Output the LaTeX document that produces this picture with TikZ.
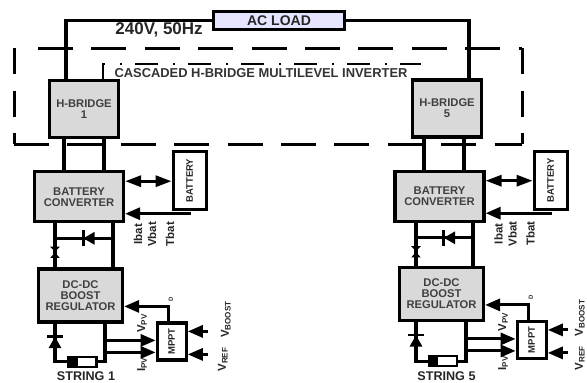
\documentclass[tikz,border=0pt]{standalone}
\usepackage{fontspec}
\setmainfont{Liberation Sans}
\usetikzlibrary{arrows.meta, calc, positioning, shapes.geometric}
\tikzset{
  linkline/.style={line width=3.2pt},
  linkarrow/.style={->, >={Triangle[length=15pt,width=12pt]}, line width=3pt},
  linkboth/.style={<->, >={Triangle[length=16pt,width=11pt]}, line width=3pt},
  greybox/.style={rectangle, draw, line width=3.2pt, fill=gray!30, inner sep=0pt, align=center, text=black!75, font=\fontsize{11.2}{11}\selectfont\bfseries},
  hbridge/.style={greybox, minimum width=69pt, minimum height=57pt},
  batconv/.style={greybox, minimum width=89pt, minimum height=50pt},
  boostreg/.style={greybox, minimum width=84pt, minimum height=53pt},
  sidebox/.style={rectangle, draw, line width=3.2pt, fill=white, inner sep=0pt, text=black!85},
  batbox/.style={sidebox, minimum width=33pt, minimum height=58pt, font=\fontsize{9.5}{10}\selectfont\bfseries},
  mpptbox/.style={sidebox, minimum width=29pt, minimum height=37pt, font=\fontsize{9.5}{10}\selectfont\bfseries},
  pvcell/.style={rectangle, draw, line width=2.4pt, fill=white, inner sep=0pt, minimum width=28pt, minimum height=10pt},
  pvmark/.style={rectangle, fill=black, inner sep=0pt, minimum width=10pt, minimum height=9pt},
  diodetip/.style={regular polygon, regular polygon sides=3, fill=black, inner sep=0pt, minimum size=15pt, anchor=corner 1},
  diodebar/.style={rectangle, fill=black, inner sep=0pt},
  signame/.style={inner sep=0pt, rotate=90, text=black!85, font=\fontsize{11.5}{11}\selectfont\bfseries},
  stringname/.style={inner sep=0pt, text=black!85, font=\fontsize{12.6}{12}\selectfont\bfseries},
  outerdashh/.style={line width=3pt, dash pattern=on 35pt off 18.4pt},
  outerdashv/.style={line width=3pt, dash pattern=on 26pt off 16.5pt},
  innerdash/.style={line width=2.2pt, dash pattern=on 23pt off 15pt on 2pt off 13pt, dash phase=6pt},
}
\begin{document}
\begin{tikzpicture}[x=1pt, y=1pt]
  \useasboundingbox (0,0) rectangle (587,-383);

  % Load and inverter frame.
  \node[rectangle, draw, line width=2.8pt, fill=blue!10!white, minimum width=131pt, minimum height=18pt, inner sep=0pt, text=black!85, font=\fontsize{14}{14}\selectfont\bfseries] (acload) at (279,-20.5) {AC LOAD};
  \node[inner sep=0pt, text=black!85, font=\fontsize{17}{17}\selectfont\bfseries] (mains) at ($(acload.west)+(-53,-9)$) {240V, 50Hz};
  \node[minimum width=508pt, minimum height=96pt, inner sep=0pt, outer sep=0pt] (inv) at (268,-96) {};
  \node[inner sep=0pt, text=black!80, font=\fontsize{12.9}{13}\selectfont\bfseries] (invname) at ($(inv.north)+(-7,-25)$) {CASCADED H-BRIDGE MULTILEVEL INVERTER};

  \draw[outerdashh] ($(inv.north west)+(24,0)$) -- (inv.north east);
  \draw[outerdashh] (inv.south west) -- (inv.south east);
  \draw[outerdashv] (inv.north west) -- (inv.south west);
  \draw[outerdashv] (inv.north east) -- (inv.south east);

  % First string.
  \node[hbridge] (hb1) at (84,-109) {H-BRIDGE\\1};
  \node[batconv, below=31pt of hb1, xshift=-5pt] (bc1) {BATTERY\\CONVERTER};
  \node[boostreg, below=44pt of bc1, xshift=1.5pt] (dc1) {DC-DC\\BOOST\\REGULATOR};
  \node[batbox, right=46.5pt of bc1, yshift=16pt] (bat1) {\rotatebox{90}{BATTERY}};
  \node[mpptbox, right=31.5pt of dc1, yshift=-46pt] (mppt1) {\rotatebox{90}{MPPT}};
  \node[pvcell, below=32pt of dc1, xshift=2pt] (str1) {};
  \node[pvmark, anchor=west] (mark1) at (str1.west) {};
  \node[stringname, below=4pt of str1, xshift=3.5pt] (strname1) {STRING 1};

  % Fifth string.
  \node[hbridge] (hb5) at (447,-108.5) {H-BRIDGE\\5};
  \node[batconv, below=31pt of hb5, xshift=-7.5pt] (bc5) {BATTERY\\CONVERTER};
  \node[boostreg, below=43pt of bc5, xshift=2pt] (dc5) {DC-DC\\BOOST\\REGULATOR};
  \node[batbox, right=47pt of bc5, yshift=16pt] (bat5) {\rotatebox{90}{BATTERY}};
  \node[mpptbox, right=30.5pt of dc5, yshift=-46pt] (mppt5) {\rotatebox{90}{MPPT}};
  \node[pvcell, below=33pt of dc5, xshift=1.5pt] (str5) {};
  \node[pvmark, anchor=west] (mark5) at (str5.west) {};
  \node[stringname, below=4pt of str5, xshift=3.5pt] (strname5) {STRING 5};

  % Mains edges.
  \coordinate (hb1top) at ($(hb1.north)+(-18,0)$);
  \coordinate (hb5top) at ($(hb5.north)+(22,0)$);
  \draw[linkline] (acload.west) -| (hb1top);
  \draw[linkline] (acload.east) -| (hb5top);
  \coordinate (innerl) at ($(hb1.north)+(19,0)$);
  \coordinate (innerr) at (421,-64);
  \draw[innerdash] (innerl) |- (innerr);

  % Edges of the first string.
  \coordinate (hb1a) at ($(hb1.south)+(-20,0)$);
  \coordinate (hb1b) at ($(hb1.south)+(20,0)$);
  \draw[linkline] (hb1a) -- (hb1a |- bc1.north);
  \draw[linkline] (hb1b) -- (hb1b |- bc1.north);
  \draw[linkboth] (bc1.east |- bat1.west) ++(0,-0.5) -- ($(bat1.west)+(0,-0.5)$);
  \coordinate (fb1) at ($(bc1.east)+(66,-17)$);
  \draw[linkarrow] (fb1) -- ($(bc1.east)+(0,-17)$);

  \coordinate (bus1a) at ($(bc1.south)+(-24,0)$);
  \coordinate (bus1b) at ($(bc1.south)+(34,0)$);
  \draw[linkline] (bus1a) -- (bus1a |- dc1.north);
  \draw[linkline] (bus1b) -- (bus1b |- dc1.north);
  \coordinate (tie1) at ($(bc1.south)+(4,-15)$);
  \draw[linkline] (bus1a |- tie1) -- (bus1b |- tie1);
  \node[diodebar, minimum width=3pt, minimum height=16pt] (tiebar1) at (tie1) {};
  \node[diodetip, rotate=90] (tietip1) at (tie1) {};
  \coordinate (neck1) at ($(bus1a)+(0,-29)$);
  \node[diodetip, minimum size=7pt, xscale=1.6] (necka1) at (neck1) {};
  \node[diodetip, minimum size=7pt, xscale=1.6, rotate=180] (neckb1) at (neck1) {};

  \coordinate (ret1) at ($(dc1.south)+(24.5,0)$);
  \draw[linkline] (bus1a |- dc1.south) |- (str1.west);
  \draw[linkline] (str1.east) -| (ret1);
  \coordinate (pvd1) at ($(bus1a |- dc1.south)+(0,-13)$);
  \node[diodebar, minimum width=16pt, minimum height=2.5pt] (pvbar1) at (pvd1) {};
  \node[diodetip] (pvtip1) at (pvd1) {};
  \coordinate (sa1) at ($(mppt1.west)+(0,1)$);
  \coordinate (sb1) at ($(mppt1.west)+(0,-11)$);
  \draw[linkarrow] (ret1 |- sa1) -- (sa1);
  \draw[linkarrow] (ret1 |- sb1) -- (sb1);
  \draw[linkarrow] ($(mppt1.north)+(-3,0)$) |- ($(dc1.east)+(0,-11)$);
  \coordinate (ra1) at ($(mppt1.east)+(20,10)$);
  \coordinate (rb1) at ($(mppt1.east)+(20,-13)$);
  \draw[linkarrow] (ra1) -- ($(mppt1.east)+(0,10)$);
  \draw[linkarrow] (rb1) -- ($(mppt1.east)+(0,-13)$);

  % Edges of the fifth string.
  \coordinate (hb5a) at ($(hb5.south)+(-23,0)$);
  \coordinate (hb5b) at ($(hb5.south)+(17,0)$);
  \draw[linkline] (hb5a) -- (hb5a |- bc5.north);
  \draw[linkline] (hb5b) -- (hb5b |- bc5.north);
  \draw[linkboth] (bc5.east |- bat5.west) ++(0,-0.5) -- ($(bat5.west)+(0,-0.5)$);
  \coordinate (fb5) at ($(bc5.east)+(66,-17)$);
  \draw[linkarrow] (fb5) -- ($(bc5.east)+(0,-17)$);

  \coordinate (bus5a) at ($(bc5.south)+(-23.5,0)$);
  \coordinate (bus5b) at ($(bc5.south)+(33.5,0)$);
  \draw[linkline] (bus5a) -- (bus5a |- dc5.north);
  \draw[linkline] (bus5b) -- (bus5b |- dc5.north);
  \coordinate (tie5) at ($(bc5.south)+(4,-15)$);
  \draw[linkline] (bus5a |- tie5) -- (bus5b |- tie5);
  \node[diodebar, minimum width=3pt, minimum height=16pt] (tiebar5) at (tie5) {};
  \node[diodetip, rotate=90] (tietip5) at (tie5) {};
  \coordinate (neck5) at ($(bus5a)+(0,-29)$);
  \node[diodetip, minimum size=7pt, xscale=1.6] (necka5) at (neck5) {};
  \node[diodetip, minimum size=7pt, xscale=1.6, rotate=180] (neckb5) at (neck5) {};

  \coordinate (ret5) at ($(dc5.south)+(24.5,0)$);
  \draw[linkline] (bus5a |- dc5.south) |- (str5.west);
  \draw[linkline] (str5.east) -| (ret5);
  \coordinate (pvd5) at ($(bus5a |- dc5.south)+(0,-13)$);
  \node[diodebar, minimum width=16pt, minimum height=2.5pt] (pvbar5) at (pvd5) {};
  \node[diodetip] (pvtip5) at (pvd5) {};
  \coordinate (sa5) at ($(mppt5.west)+(0,1)$);
  \coordinate (sb5) at ($(mppt5.west)+(0,-11)$);
  \draw[linkarrow] (ret5 |- sa5) -- (sa5);
  \draw[linkarrow] (ret5 |- sb5) -- (sb5);
  \draw[linkarrow] ($(mppt5.north)+(-3,0)$) |- ($(dc5.east)+(0,-11)$);
  \coordinate (ra5) at ($(mppt5.east)+(20,10)$);
  \coordinate (rb5) at ($(mppt5.east)+(20,-13)$);
  \draw[linkarrow] (ra5) -- ($(mppt5.east)+(0,10)$);
  \draw[linkarrow] (rb5) -- ($(mppt5.east)+(0,-13)$);

  % Signal names.
  \node[signame] (ibat1) at ($(bc1.south east)+(13,-11)$) {Ibat};
  \node[signame] (vbat1) at ($(bc1.south east)+(27,-11)$) {Vbat};
  \node[signame] (tbat1) at ($(bc1.south east)+(45,-11)$) {Tbat};
  \node[signame] (vpv1) at ($(dc1.south east)+(18,0)$) {V\textsubscript{PV}};
  \node[signame] (ipv1) at ($(dc1.south east)+(18,-41)$) {I\textsubscript{PV}};
  \node[signame] (vboost1) at ($(mppt1.east)+(38,22)$) {V\textsubscript{BOOST}};
  \node[signame] (vref1) at ($(mppt1.east)+(35,-18)$) {V\textsubscript{REF}};
  \node[signame, font=\fontsize{6}{6}\selectfont\bfseries] (duty1) at ($(mppt1.north)+(-1,22)$) {D};

  \node[signame] (ibat5) at ($(bc5.south east)+(13,-11)$) {Ibat};
  \node[signame] (vbat5) at ($(bc5.south east)+(27,-11)$) {Vbat};
  \node[signame] (tbat5) at ($(bc5.south east)+(45,-11)$) {Tbat};
  \node[signame] (vpv5) at ($(dc5.south east)+(18,0)$) {V\textsubscript{PV}};
  \node[signame] (ipv5) at ($(dc5.south east)+(18,-41)$) {I\textsubscript{PV}};
  \node[signame] (vboost5) at ($(mppt5.east)+(32,22)$) {V\textsubscript{BOOST}};
  \node[signame] (vref5) at ($(mppt5.east)+(32,-18)$) {V\textsubscript{REF}};
  \node[signame, font=\fontsize{6}{6}\selectfont\bfseries] (duty5) at ($(mppt5.north)+(-1,22)$) {D};
\end{tikzpicture}
\end{document}
